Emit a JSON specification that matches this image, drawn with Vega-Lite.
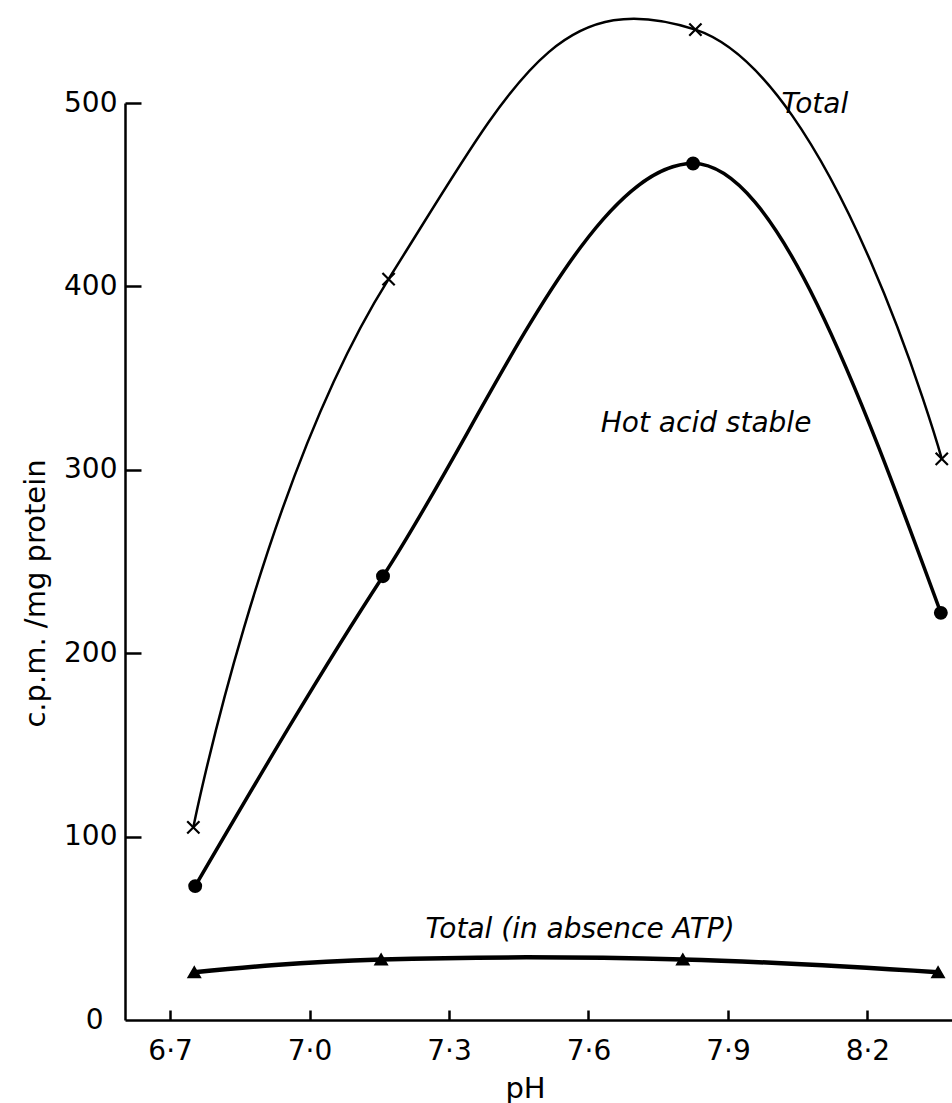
{
  "$schema": "https://vega.github.io/schema/vega-lite/v6.json",
  "autosize": {"type": "none"},
  "width": 827,
  "height": 917,
  "padding": {"left": 125, "top": 103, "right": 0, "bottom": 83},
  "background": "white",
  "config": {
    "view": {"stroke": null},
    "font": "DejaVu Sans",
    "axis": {"domainColor": "black", "labelColor": "black", "titleColor": "black", "labelFont": "DejaVu Sans", "titleFont": "DejaVu Sans", "titleFontWeight": "normal", "labelFontSize": 28, "titleFontSize": 29, "domainWidth": 2.5, "ticks": false, "grid": true, "gridColor": "black", "gridWidth": 2.5}
  },
  "datasets": {
    "points": [
      {"series": "Total", "pH": 6.75, "cpm": 105},
      {"series": "Total", "pH": 7.17, "cpm": 404},
      {"series": "Total", "pH": 7.83, "cpm": 540},
      {"series": "Total", "pH": 8.36, "cpm": 306},
      {"series": "Hot acid stable", "pH": 6.754, "cpm": 73},
      {"series": "Hot acid stable", "pH": 7.158, "cpm": 242},
      {"series": "Hot acid stable", "pH": 7.825, "cpm": 467},
      {"series": "Hot acid stable", "pH": 8.358, "cpm": 222},
      {"series": "Total (in absence ATP)", "pH": 6.752, "cpm": 26},
      {"series": "Total (in absence ATP)", "pH": 7.154, "cpm": 33},
      {"series": "Total (in absence ATP)", "pH": 7.803, "cpm": 33},
      {"series": "Total (in absence ATP)", "pH": 8.352, "cpm": 26}
    ],
    "labels": [
      {"label": "Total", "pH": 8.087, "cpm": 499},
      {"label": "Hot acid stable", "pH": 7.853, "cpm": 325},
      {"label": "Total (in absence ATP)", "pH": 7.582, "cpm": 49}
    ]
  },
  "layer": [
    {
      "data": {"name": "points"},
      "transform": [{"filter": "datum.series === 'Total'"}],
      "mark": {"type": "line", "interpolate": "cardinal", "tension": -0.5, "color": "black", "strokeWidth": 2.5},
      "encoding": {
        "x": {"field": "pH", "type": "quantitative", "scale": {"domain": [6.603, 8.382], "nice": false, "zero": false},
          "axis": {"values": [6.7, 7.0, 7.3, 7.6, 7.9, 8.2], "labelExpr": "replace(format(datum.value, '.1f'), '.', '·')", "labelPadding": 17, "gridDash": [10, 907], "gridDashOffset": 10, "title": "pH", "titleX": 400, "titleY": 68, "titleBaseline": "middle", "titleAlign": "center"}},
        "y": {"field": "cpm", "type": "quantitative", "scale": {"domain": [0, 500], "nice": false},
          "axis": {"values": [0, 100, 200, 300, 400, 500], "labelPadding": {"condition": {"test": "datum.value === 0", "value": 22}, "value": 8}, "gridOpacity": {"condition": {"test": "datum.value === 0", "value": 0}, "value": 1}, "gridDash": [16, 2000], "title": "c.p.m. /mg protein", "titleAngle": -90, "titleX": -90, "titleY": 490, "titleBaseline": "middle", "titleAlign": "center"}}
      }
    },
    {
      "data": {"name": "points"},
      "transform": [{"filter": "datum.series === 'Hot acid stable'"}],
      "mark": {"type": "line", "interpolate": "monotone", "color": "black", "strokeWidth": 3.5},
      "encoding": {
        "x": {"field": "pH", "type": "quantitative"},
        "y": {"field": "cpm", "type": "quantitative"}
      }
    },
    {
      "data": {"name": "points"},
      "transform": [{"filter": "datum.series === 'Total (in absence ATP)'"}],
      "mark": {"type": "line", "interpolate": "natural", "color": "black", "strokeWidth": 4.5},
      "encoding": {
        "x": {"field": "pH", "type": "quantitative"},
        "y": {"field": "cpm", "type": "quantitative"}
      }
    },
    {
      "data": {"name": "points"},
      "mark": {"type": "point", "filled": true, "opacity": 1, "color": "black", "stroke": "black", "strokeWidth": 2.2},
      "encoding": {
        "x": {"field": "pH", "type": "quantitative"},
        "y": {"field": "cpm", "type": "quantitative"},
        "shape": {"field": "series", "type": "nominal", "legend": null,
          "scale": {"domain": ["Total", "Hot acid stable", "Total (in absence ATP)"], "range": ["M-1,-1L1,1M1,-1L-1,1", "circle", "triangle-up"]}},
        "size": {"field": "series", "type": "nominal", "legend": null,
          "scale": {"domain": ["Total", "Hot acid stable", "Total (in absence ATP)"], "range": [150, 125, 220]}}
      }
    },
    {
      "data": {"name": "labels"},
      "mark": {"type": "text", "fontStyle": "italic", "fontSize": 28, "font": "DejaVu Sans", "align": "center", "baseline": "middle", "color": "black"},
      "encoding": {
        "x": {"field": "pH", "type": "quantitative"},
        "y": {"field": "cpm", "type": "quantitative"},
        "text": {"field": "label"}
      }
    }
  ]
}
